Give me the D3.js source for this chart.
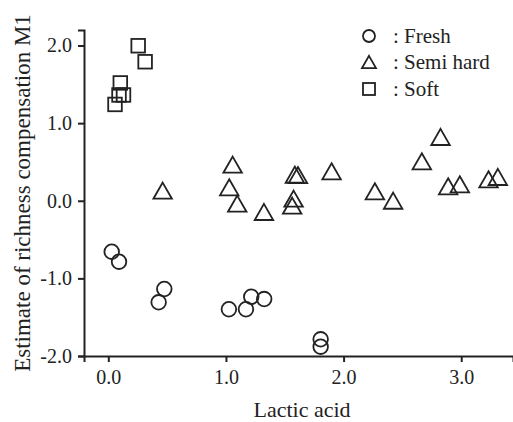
<!DOCTYPE html>
<html>
<head>
<meta charset="utf-8">
<script src="https://cdn.jsdelivr.net/npm/d3@7"></script>
<style>
  body { margin: 0; background: #fff; }
  svg text { font-family: "Liberation Serif", "Times New Roman", serif; fill: #222; }
</style>
</head>
<body>
<div class="chart"></div>
<script>
// values: [lactic acid, estimate M1]
const fresh = [
    [0.029, -0.656], [0.091, -0.785], [0.476, -1.137], [0.428, -1.308],
    [1.025, -1.398], [1.170, -1.398], [1.215, -1.236], [1.325, -1.266],
    [1.805, -1.785], [1.805, -1.880]
];
const semiHard = [
    [0.462, 0.130], [1.057, 0.465], [1.028, 0.174], [1.096, -0.037],
    [1.323, -0.144], [1.586, 0.336], [1.612, 0.332], [1.575, 0.027],
    [1.563, -0.063], [1.898, 0.380], [2.824, 0.822], [2.665, 0.509],
    [2.266, 0.122], [2.421, 0.001], [2.889, 0.187], [2.988, 0.213],
    [3.232, 0.277], [3.311, 0.307]
];
const soft = [
    [0.254, 1.997], [0.313, 1.791], [0.102, 1.518], [0.091, 1.363],
    [0.129, 1.363], [0.057, 1.241]
];
const xTicks = [0, 1, 2, 3];
const yTicks = [-2, -1, 0, 1, 2];
const legendLabels = [": Fresh", ": Semi hard", ": Soft"];

const width = 513;
const height = 422;
const ink = "#222";

const svg = d3.select(".chart")
    .append("svg")
    .attr("width", width)
    .attr("height", height);

const x = d3.scaleLinear()
    .domain([-0.2066, 3.44])
    .range([84, 513]);

const y = d3.scaleLinear()
    .domain([-2, 2.2])
    .range([356, 30]);

const xAxis = svg.append("g")
    .attr("transform", `translate(0,${y(-2)})`)
    .call(d3.axisBottom(x)
        .tickValues(xTicks)
        .tickFormat(d => d.toFixed(1))
        .tickSizeOuter(0)
        .tickSize(6)
        .tickPadding(8));

const yAxis = svg.append("g")
    .attr("transform", `translate(${x(-0.2066)},0)`)
    .call(d3.axisLeft(y)
        .tickValues(yTicks)
        .tickFormat(d => d.toFixed(1))
        .tickSizeOuter(0)
        .tickSize(6)
        .tickPadding(6));

[xAxis, yAxis].forEach(g => {
    g.select(".domain").attr("stroke", ink).attr("stroke-width", 2);
    g.selectAll(".tick line").attr("stroke", ink).attr("stroke-width", 2);
    g.selectAll(".tick text")
        .attr("fill", ink)
        .style("font-size", "20px")
        .style("font-family", "'Liberation Serif', serif");
});

// axis titles
svg.append("text")
    .attr("x", 302)
    .attr("y", 417)
    .attr("text-anchor", "middle")
    .style("font-size", "22px")
    .text("Lactic acid");

svg.append("text")
    .attr("transform", "translate(30,193) rotate(-90)")
    .attr("text-anchor", "middle")
    .style("font-size", "23px")
    .text("Estimate of richness compensation M1");

// marker shapes
const triPath = (s) => {
    const w = s, h = s * 0.87;
    return `M0,${-h/2}L${w/2},${h/2}L${-w/2},${h/2}Z`;
};

const marks = svg.append("g")
    .attr("fill", "none")
    .attr("stroke", ink)
    .attr("stroke-width", 1.8);

marks.selectAll("circle.fresh")
    .data(fresh)
    .join("circle")
    .attr("class", "fresh")
    .attr("cx", d => x(d[0]))
    .attr("cy", d => y(d[1]))
    .attr("r", 7.3);

marks.selectAll("path.semi")
    .data(semiHard)
    .join("path")
    .attr("class", "semi")
    .attr("d", triPath(18.5))
    .attr("transform", d => `translate(${x(d[0])},${y(d[1])})`);

marks.selectAll("rect.soft")
    .data(soft)
    .join("rect")
    .attr("class", "soft")
    .attr("x", d => x(d[0]) - 6.8)
    .attr("y", d => y(d[1]) - 6.8)
    .attr("width", 13.6)
    .attr("height", 13.6);

// legend
const legend = svg.append("g");
const legendY = [36, 62, 89];

legend.append("circle")
    .attr("cx", 369).attr("cy", legendY[0]).attr("r", 6)
    .attr("fill", "none").attr("stroke", ink).attr("stroke-width", 1.8);
legend.append("path")
    .attr("d", triPath(14))
    .attr("transform", `translate(369,${legendY[1]})`)
    .attr("fill", "none").attr("stroke", ink).attr("stroke-width", 1.8);
legend.append("rect")
    .attr("x", 363).attr("y", legendY[2] - 6).attr("width", 12).attr("height", 12)
    .attr("fill", "none").attr("stroke", ink).attr("stroke-width", 1.8);

legend.selectAll("text")
    .data(legendLabels)
    .join("text")
    .attr("x", 393)
    .attr("y", (d, i) => legendY[i] + 7)
    .style("font-size", "21px")
    .text(d => d);
</script>
</body>
</html>
